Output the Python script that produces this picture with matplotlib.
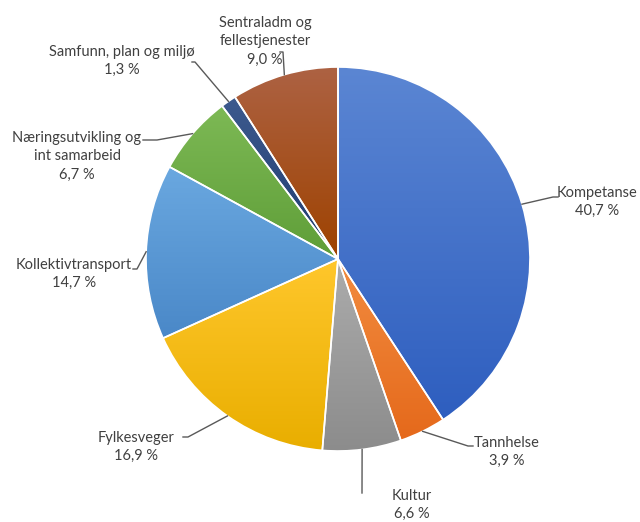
import numpy as np
import matplotlib.pyplot as plt
from matplotlib.colors import to_rgb

# data
categories = ["Kompetanse", "Tannhelse", "Kultur", "Fylkesveger",
              "Kollektivtransport", "Næringsutvikling og\nint samarbeid",
              "Samfunn, plan og miljø", "Sentraladm og\nfellestjenester"]
shares = [40.7, 3.9, 6.6, 16.9, 14.7, 6.7, 1.3, 9.0]

# gradient colours (top, bottom) per slice
top_colors = ["#5B86D3", "#F28C40", "#ACACAC", "#FFC72C",
              "#6AA8E0", "#7DB955", "#3D5A8E", "#AD6243"]
bottom_colors = ["#2E5EBF", "#E5691B", "#8C8C8C", "#E9AE00",
                 "#4A88C8", "#5F9E38", "#1F3C70", "#9E4200"]

# layout in pixels: pie centre / radius, label centres, leader elbows and ends
CX, CY, R = 338, 259, 192
W, H = 640, 522
label_pos = [(597, 202), (507, 452), (412, 505), (136, 447),
             (74, 274), (77, 156), (122, 61), (265, 41)]
elbow_pos = [(553, 197), (468, 446), (362, 493), (188, 437),
             (137, 269), (157, 140), (195, 62), (283, 52)]
end_pos = [(558, 197), (473, 446), (362, 493), (183, 437),
           (133, 269), (143, 140), (192, 62), (280, 52)]


def px(p):
    return ((p[0] - CX) / R, (CY - p[1]) / R)


fig = plt.figure(figsize=(W / 100, H / 100), dpi=100)
ax = fig.add_axes([0, 0, 1, 1])

wedges, _ = ax.pie(shares, startangle=90, counterclock=False, radius=1,
                   wedgeprops=dict(edgecolor="white", linewidth=1.2))

for w, ct, cb in zip(wedges, top_colors, bottom_colors):
    ext = w.get_path().get_extents()
    t = np.linspace(0, 1, 256)[:, None, None]
    grad = (1 - t) * np.array(to_rgb(ct)) + t * np.array(to_rgb(cb))
    im = ax.imshow(grad, extent=[ext.x0, ext.x1, ext.y0, ext.y1],
                   origin="upper", aspect="auto", zorder=1,
                   interpolation="bilinear")
    im.set_clip_path(w)
    w.set_facecolor("none")
    w.set_zorder(2)

text_color = "#404040"
for w, cat, val, lp, ep, nd in zip(wedges, categories, shares,
                                   label_pos, elbow_pos, end_pos):
    mid = np.deg2rad((w.theta1 + w.theta2) / 2)
    edge = (np.cos(mid), np.sin(mid))
    e = px(ep)
    n = px(nd)
    ax.plot([edge[0], e[0], n[0]], [edge[1], e[1], n[1]],
            color="#595959", linewidth=1.0, zorder=3)
    txt = cat + "\n" + f"{val:.1f}".replace(".", ",") + " %"
    x, y = px(lp)
    ax.text(x, y, txt, ha="center", va="center", fontsize=10.5,
            family="Lato", color=text_color, linespacing=1.4)

ax.set_xlim(-CX / R, (W - CX) / R)
ax.set_ylim(-(H - CY) / R, CY / R)
ax.set_aspect("auto")
ax.axis("off")

fig.savefig("out.png", dpi=100, facecolor="white")
